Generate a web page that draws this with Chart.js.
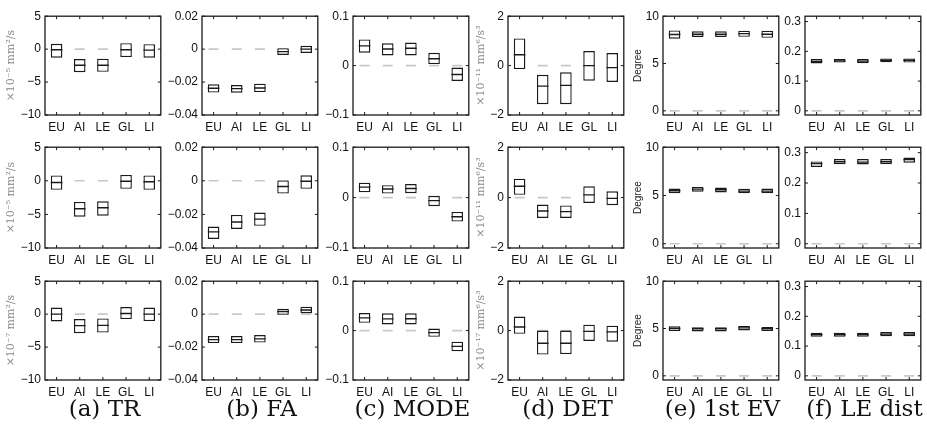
<!DOCTYPE html>
<html>
<head>
<meta charset="utf-8">
<script src="https://cdn.jsdelivr.net/npm/chart.js@4.4.1/dist/chart.umd.min.js"></script>
<style>
  body { margin: 0; background: #fff; width: 927px; height: 427px; overflow: hidden; position: relative; }
  canvas { position: absolute; }
  .cap { position: absolute; top: 395px; font-family: "DejaVu Serif", serif; font-size: 23px; color: #111;
         transform: translateX(-50%); white-space: nowrap; }
</style>
</head>
<body>
<script>
const categories = ['EU', 'AI', 'LE', 'GL', 'LI'];
const zeroLine = [0, 0, 0, 0, 0];
const captions = ['(a) TR', '(b) FA', '(c) MODE', '(d) DET', '(e) 1st EV', '(f) LE dist'];

// tick labels per column
const trTicks = [-10, -5, 0, 5];
const faTicks = [-0.04, -0.02, 0, 0.02];
const modeTicks = [-0.1, 0, 0.1];
const detTicks = [-2, 0, 2];
const evTicks = [0, 5, 10];
const leTicks = [0, 0.1, 0.2, 0.3];

// box lower / upper edge and median, one set per panel (row 1..3)
const tr1Lo = [-1.3, -3.5, -3.45, -1.2, -1.3];
const tr1Hi = [0.8, -1.5, -1.45, 0.9, 0.75];
const tr1Med = [-0.1, -2.45, -2.45, -0.1, -0.15];
const tr2Lo = [-1.35, -5.35, -5.2, -1.2, -1.35];
const tr2Hi = [0.8, -3.15, -3.05, 0.88, 0.8];
const tr2Med = [-0.25, -4.15, -4.0, -0.07, -0.15];
const tr3Lo = [-1.1, -2.9, -2.8, -0.75, -1.05];
const tr3Hi = [1.0, -0.75, -0.65, 1.08, 1.0];
const tr3Med = [0, -1.75, -1.7, 0.1, 0];

const fa1Lo = [-0.0264, -0.0265, -0.0261, -0.0035, -0.0023];
const fa1Hi = [-0.0214, -0.0218, -0.021, 0.0006, 0.002];
const fa1Med = [-0.0238, -0.024, -0.0236, -0.0015, 0.0];
const fa2Lo = [-0.0346, -0.0287, -0.0268, -0.0076, -0.0048];
const fa2Hi = [-0.0272, -0.0203, -0.0189, 0.0002, 0.0033];
const fa2Med = [-0.0304, -0.0245, -0.0228, -0.0034, -0.0003];
const fa3Lo = [-0.0176, -0.0176, -0.0173, -0.0004, 0.0006];
const fa3Hi = [-0.0133, -0.0133, -0.0127, 0.0033, 0.0045];
const fa3Med = [-0.0155, -0.0155, -0.015, 0.0016, 0.0025];

const mode1Lo = [0.026, 0.0205, 0.0205, 0.003, -0.031];
const mode1Hi = [0.053, 0.045, 0.0466, 0.026, -0.004];
const mode1Med = [0.04, 0.0335, 0.035, 0.014, -0.018];
const mode2Lo = [0.0105, 0.008, 0.0086, -0.017, -0.0476];
const mode2Hi = [0.0297, 0.0246, 0.027, 0.0035, -0.0284];
const mode2Med = [0.0208, 0.017, 0.018, -0.006, -0.038];
const mode3Lo = [0.0158, 0.0125, 0.0125, -0.0125, -0.042];
const mode3Hi = [0.0355, 0.035, 0.035, 0.004, -0.0224];
const mode3Med = [0.0257, 0.0237, 0.024, -0.004, -0.032];

const det1Lo = [-0.14, -1.56, -1.56, -0.61, -0.66];
const det1Hi = [1.1, -0.37, -0.27, 0.59, 0.51];
const det1Med = [0.44, -0.83, -0.8, 0.0, -0.08];
const det2Lo = [0.11, -0.81, -0.81, -0.21, -0.3];
const det2Hi = [0.75, -0.275, -0.31, 0.45, 0.25];
const det2Med = [0.45, -0.53, -0.556, 0.11, -0.03];
const det3Lo = [-0.13, -0.97, -0.95, -0.42, -0.45];
const det3Hi = [0.57, 0.0, 0.0, 0.24, 0.2];
const det3Med = [0.145, -0.51, -0.51, -0.03, -0.05];

const ev1Lo = [7.62, 7.8, 7.8, 7.82, 7.72];
const ev1Hi = [8.5, 8.4, 8.4, 8.47, 8.47];
const ev1Med = [8.06, 8.1, 8.1, 8.16, 8.1];
const ev2Lo = [5.22, 5.39, 5.32, 5.22, 5.22];
const ev2Hi = [5.72, 5.89, 5.82, 5.69, 5.72];
const ev2Med = [5.49, 5.66, 5.59, 5.45, 5.45];
const ev3Lo = [4.73, 4.69, 4.69, 4.8, 4.73];
const ev3Hi = [5.24, 5.14, 5.14, 5.27, 5.17];
const ev3Med = [5.0, 4.97, 4.97, 5.07, 4.97];

const le1Lo = [0.159, 0.162, 0.16, 0.163, 0.162];
const le1Hi = [0.174, 0.174, 0.174, 0.176, 0.176];
const le1Med = [0.166, 0.168, 0.167, 0.17, 0.17];
const le2Lo = [0.253, 0.262, 0.261, 0.262, 0.267];
const le2Hi = [0.271, 0.279, 0.279, 0.279, 0.284];
const le2Med = [0.264, 0.27, 0.269, 0.27, 0.277];
const le3Lo = [0.131, 0.131, 0.131, 0.133, 0.133];
const le3Hi = [0.145, 0.145, 0.145, 0.147, 0.147];
const le3Med = [0.138, 0.138, 0.138, 0.14, 0.14];

// layout
const plotW = 119;
const rowTop = [13, 144, 278];
const rowH = [102, 104, 102];
const serifGray = { family: 'DejaVu Serif', size: 11, color: '#8a8a8a' };
const sansDark = { family: 'Liberation Sans', size: 10, color: '#222' };

const cols = [
  { left: 45,  yw: 45, min: -10,    max: 5,     ticks: trTicks,   tpad: 5, tf: serifGray },
  { left: 202, yw: 42, min: -0.04,  max: 0.02,  ticks: faTicks },
  { left: 353, yw: 36, min: -0.1,   max: 0.1,   ticks: modeTicks },
  { left: 508, yw: 34, min: -2,     max: 2,     ticks: detTicks,  tpad: 1, tf: serifGray },
  { left: 663, yw: 33, min: -0.44,  max: 10,    ticks: evTicks,   tpad: 2, tf: sansDark },
  { left: 805, yw: 26, min: -0.014, max: 0.318, ticks: leTicks }
];

const panels = [
  [0, 0, tr1Lo, tr1Hi, tr1Med, '×10⁻⁵ mm²/s'],
  [0, 1, tr2Lo, tr2Hi, tr2Med, '×10⁻⁵ mm²/s'],
  [0, 2, tr3Lo, tr3Hi, tr3Med, '×10⁻⁷ mm²/s'],
  [1, 0, fa1Lo, fa1Hi, fa1Med],
  [1, 1, fa2Lo, fa2Hi, fa2Med],
  [1, 2, fa3Lo, fa3Hi, fa3Med],
  [2, 0, mode1Lo, mode1Hi, mode1Med],
  [2, 1, mode2Lo, mode2Hi, mode2Med],
  [2, 2, mode3Lo, mode3Hi, mode3Med],
  [3, 0, det1Lo, det1Hi, det1Med, '×10⁻¹¹ mm⁶/s³'],
  [3, 1, det2Lo, det2Hi, det2Med, '×10⁻¹¹ mm⁶/s³'],
  [3, 2, det3Lo, det3Hi, det3Med, '×10⁻¹⁷ mm⁶/s³'],
  [4, 0, ev1Lo, ev1Hi, ev1Med, 'Degree'],
  [4, 1, ev2Lo, ev2Hi, ev2Med, 'Degree'],
  [4, 2, ev3Lo, ev3Hi, ev3Med, 'Degree'],
  [5, 0, le1Lo, le1Hi, le1Med],
  [5, 1, le2Lo, le2Hi, le2Med],
  [5, 2, le3Lo, le3Hi, le3Med]
];

// MATLAB-like box frame with inward ticks
const frame = {
  id: 'frame',
  afterDraw(chart) {
    const { ctx, chartArea: a, scales: { x, y } } = chart;
    ctx.save();
    ctx.strokeStyle = '#1a1a1a';
    ctx.lineWidth = 1.3;
    ctx.strokeRect(a.left, a.top, a.right - a.left, a.bottom - a.top);
    ctx.lineWidth = 1;
    ctx.beginPath();
    x.ticks.forEach((t, i) => {
      const px = x.getPixelForTick(i);
      ctx.moveTo(px, a.bottom); ctx.lineTo(px, a.bottom - 3);
      ctx.moveTo(px, a.top); ctx.lineTo(px, a.top + 3);
    });
    y.ticks.forEach(t => {
      const py = y.getPixelForValue(t.value);
      ctx.moveTo(a.left, py); ctx.lineTo(a.left + 3, py);
      ctx.moveTo(a.right, py); ctx.lineTo(a.right - 3, py);
    });
    ctx.stroke();
    ctx.restore();
  }
};

function makePanel([col, row, lo, hi, med, yTitle]) {
  const c = cols[col];
  const w = c.yw + plotW + 4;
  const h = 8 + rowH[row] + 24;
  const cv = document.createElement('canvas');
  cv.width = w; cv.height = h;
  cv.style.width = w + 'px'; cv.style.height = h + 'px';
  cv.style.left = (c.left - c.yw) + 'px';
  cv.style.top = (rowTop[row] - 8) + 'px';
  document.body.appendChild(cv);

  new Chart(cv, {
    type: 'bar',
    data: {
      labels: categories,
      datasets: [
        {
          type: 'line', data: med, showLine: false, order: 0,
          pointStyle: 'line', pointRadius: 5.8, pointBorderWidth: 1.4,
          pointBorderColor: '#1a1a1a', pointBackgroundColor: '#1a1a1a'
        },
        {
          type: 'bar', data: lo.map((v, i) => [v, hi[i]]), order: 1,
          backgroundColor: '#ffffff', borderColor: '#1a1a1a', borderWidth: 1.4,
          borderSkipped: false, barPercentage: 0.5, categoryPercentage: 1
        },
        {
          type: 'line', data: zeroLine, showLine: false, order: 2,
          pointStyle: 'line', pointRadius: 5, pointBorderWidth: 1.6,
          pointBorderColor: '#c8c8c8', pointBackgroundColor: '#c8c8c8'
        }
      ]
    },
    options: {
      responsive: false,
      animation: false,
      layout: { padding: { top: 8, right: 4, bottom: 0, left: 0 } },
      plugins: { legend: { display: false }, tooltip: { enabled: false } },
      scales: {
        x: {
          grid: { display: false, drawTicks: false }, border: { display: false },
          ticks: { color: '#111', font: { family: 'Liberation Sans', size: 12 }, padding: 5, maxRotation: 0, autoSkip: false },
          afterFit: s => { s.height = 24; }
        },
        y: {
          min: c.min, max: c.max,
          grid: { display: false, drawTicks: false }, border: { display: false },
          afterBuildTicks: s => { s.ticks = c.ticks.map(v => ({ value: v })); },
          ticks: {
            color: '#111', font: { family: 'Liberation Sans', size: 12 }, padding: 4,
            callback: v => String(v).replace('-', '\u2212')
          },
          afterFit: s => { s.width = c.yw; },
          title: {
            display: !!yTitle, text: yTitle || '',
            color: c.tf ? c.tf.color : '#222',
            font: { family: c.tf ? c.tf.family : 'Liberation Sans', size: c.tf ? c.tf.size : 10 },
            padding: { top: c.tpad || 0, bottom: 0 }
          }
        }
      }
    },
    plugins: [frame]
  });
}

panels.forEach(makePanel);

captions.forEach((t, i) => {
  const d = document.createElement('div');
  d.className = 'cap';
  d.textContent = t;
  d.style.left = (cols[i].left + plotW / 2) + 'px';
  document.body.appendChild(d);
});
</script>
</body>
</html>
